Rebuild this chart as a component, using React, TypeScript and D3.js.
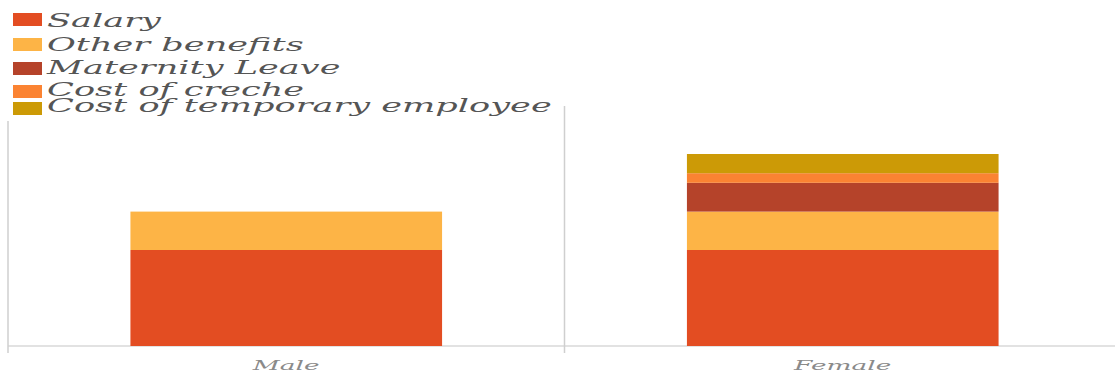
import React from "react";
import * as d3 from "d3";

const categories = ["Male", "Female"];
const seriesKeys = ["Salary", "Other benefits", "Maternity Leave", "Cost of creche", "Cost of temporary employee"];
const salary = [100, 100];
const otherBenefits = [40, 40];
const maternityLeave = [0, 30];
const costOfCreche = [0, 10];
const costOfTemporary = [0, 20];
const colors = ["#e34d22", "#fdb446", "#b5432a", "#fb8332", "#cc9a06"];

const W = 1115;
const H = 376;
const left = 8;
const right = 1121;
const top = 106;
const bottom = 346;

export default function App() {
  const rows = categories.map((c, i) => ({
    category: c,
    [seriesKeys[0]]: salary[i],
    [seriesKeys[1]]: otherBenefits[i],
    [seriesKeys[2]]: maternityLeave[i],
    [seriesKeys[3]]: costOfCreche[i],
    [seriesKeys[4]]: costOfTemporary[i],
  }));
  const stacked = d3.stack<any>().keys(seriesKeys)(rows);
  const x = d3.scaleBand<string>().domain(categories).range([left, right]).paddingInner(0).paddingOuter(0);
  const y = d3.scaleLinear().domain([0, 250]).range([bottom, top]);
  const barFrac = 0.56;
  const bw = x.bandwidth() * barFrac;

  const legendY = [13, 38, 62, 85, 102];
  const legendBase = [27, 51, 74, 96, 112];

  return (
    <svg width={W} height={H} style={{ position: "fixed", left: 0, top: 0, background: "#fff" }}>
      {/* axis lines */}
      <line x1={left} x2={W} y1={bottom} y2={bottom} stroke="#d9d9d9" strokeWidth={1.5} />
      {[left, (x("Female") as number)].map((xx, i) => (
        <line key={i} x1={xx} x2={xx} y1={top} y2={bottom + 7} stroke="#cfcfcf" strokeWidth={1.5} />
      ))}
      {/* bars */}
      {stacked.map((s, si) => (
        <g key={s.key} fill={colors[si]}>
          {s.map((d, di) => {
            const h = y(d[0]) - y(d[1]);
            if (h <= 0) return null;
            const cx = (x(categories[di]) as number) + x.bandwidth() / 2;
            return <rect key={di} x={cx - bw / 2} y={y(d[1])} width={bw} height={h} />;
          })}
        </g>
      ))}
      {/* category labels */}
      {categories.map((c) => {
        const cx = (x(c) as number) + x.bandwidth() / 2;
        return (
          <text
            key={c}
            transform={`translate(${cx},370) scale(2.2,1)`}
            textAnchor="middle"
            fontFamily="DejaVu Serif"
            fontStyle="italic"
            fontSize={12}
            fill="#8a8a8a"
          >
            {c}
          </text>
        );
      })}
      {/* legend */}
      <rect x={0} y={0} width={555} height={121} fill="#fff" />
      {seriesKeys.map((k, i) => (
        <g key={k}>
          <rect x={13} y={legendY[i]} width={29} height={13} fill={colors[i]} />
          <text
            transform={`translate(47,${legendBase[i]}) scale(1.85,1)`}
            fontFamily="DejaVu Serif"
            fontStyle="italic"
            fontSize={19}
            fill="#555"
          >
            {k}
          </text>
        </g>
      ))}
    </svg>
  );
}
